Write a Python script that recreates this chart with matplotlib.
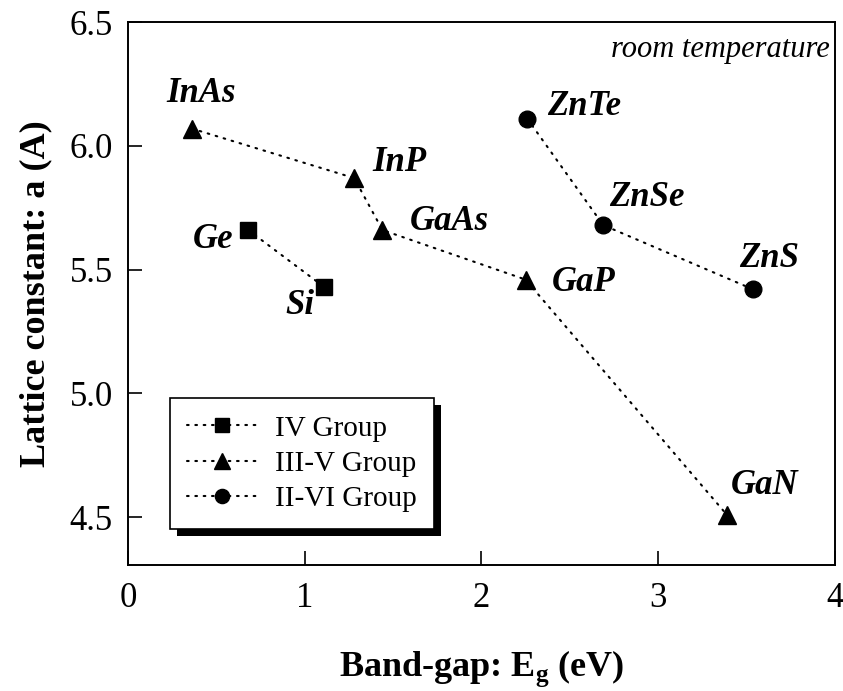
import matplotlib
matplotlib.use("Agg")
import matplotlib.pyplot as plt
from matplotlib.patches import Rectangle

plt.rcParams['font.family'] = ['Liberation Serif', 'DejaVu Serif']
plt.rcParams['mathtext.fontset'] = 'custom'
plt.rcParams['mathtext.rm'] = 'Liberation Serif'

# IV group
iv_names = ['Ge', 'Si']
iv_eg = [0.68, 1.11]
iv_a = [5.66, 5.43]

# III-V group
iii_v_names = ['InAs', 'InP', 'GaAs', 'GaP', 'GaN']
iii_v_eg = [0.36, 1.28, 1.44, 2.25, 3.39]
iii_v_a = [6.07, 5.87, 5.66, 5.46, 4.51]

# II-VI group
ii_vi_names = ['ZnTe', 'ZnSe', 'ZnS']
ii_vi_eg = [2.26, 2.69, 3.54]
ii_vi_a = [6.11, 5.68, 5.42]

x_ticks = [0, 1, 2, 3, 4]
y_ticks = [4.5, 5.0, 5.5, 6.0, 6.5]

# label placement: (dx, dy) in points, horizontal alignment
label_pos = {
    'Ge': (-11, -7, 'right'), 'Si': (-7, -13, 'right'),
    'InAs': (7, 25, 'center'), 'InP': (13, 11, 'left'),
    'GaAs': (20, 6, 'left'), 'GaP': (19, -2, 'left'),
    'GaN': (3, 21, 'left'), 'ZnTe': (14, 9, 'left'),
    'ZnSe': (4, 20, 'left'), 'ZnS': (11, 22, 'center'),
}

fig = plt.figure(figsize=(8.43, 6.91), dpi=100)
ax = fig.add_axes([0.152, 0.182, 0.838, 0.786])

dot = dict(color='black', linestyle=(0, (0.8, 3.2)), linewidth=1.5,
           dash_capstyle='round')
ax.plot(iv_eg, iv_a, marker='s', markersize=12, label='IV Group', **dot)
ax.plot(iii_v_eg, iii_v_a, marker='^', markersize=13, label='III-V Group', **dot)
ax.plot(ii_vi_eg, ii_vi_a, marker='o', markersize=12, label='II-VI Group', **dot)

for names, xs, ys in [(iv_names, iv_eg, iv_a),
                      (iii_v_names, iii_v_eg, iii_v_a),
                      (ii_vi_names, ii_vi_eg, ii_vi_a)]:
    for n, x, y in zip(names, xs, ys):
        dx, dy, ha = label_pos[n]
        ax.annotate(n, (x, y), xytext=(dx, dy), textcoords='offset points',
                    ha=ha, va='center', fontsize=25, fontweight='bold',
                    fontstyle='italic')

ax.text(0.993, 0.95, 'room temperature', transform=ax.transAxes,
        ha='right', va='center', fontsize=22, fontstyle='italic')

ax.set_xlim(0, 4)
ax.set_ylim(4.306, 6.5)
ax.set_xticks(x_ticks)
ax.set_yticks(y_ticks)
ax.set_yticklabels(['%.1f' % v for v in y_ticks])
ax.tick_params(direction='in', length=10, width=1.2, labelsize=25)
ax.tick_params(axis='y', pad=11)
ax.tick_params(axis='x', pad=12)
for s in ax.spines.values():
    s.set_linewidth(1.4)

ax.set_xlabel(r'Band-gap: E$_\mathregular{g}$ (eV)', fontsize=26,
              fontweight='bold', labelpad=24)
ax.set_ylabel('Lattice constant: a (A)', fontsize=26, fontweight='bold',
              labelpad=12)

leg = ax.legend(loc='lower left', bbox_to_anchor=(0.059, 0.066),
                fontsize=21, handlelength=2.4, numpoints=1, fancybox=False,
                framealpha=1, edgecolor='black', borderpad=0.6,
                labelspacing=0.3, handletextpad=0.6, borderaxespad=0,
                markerscale=0.85)
leg.get_frame().set_linewidth(1.2)
leg.set_zorder(5)

fig.canvas.draw()
bb = leg.get_window_extent()
shadow = Rectangle((bb.x0 + 7, bb.y0 - 7), bb.width, bb.height,
                   transform=None, facecolor='black', edgecolor='none',
                   zorder=4)
ax.add_artist(shadow)

fig.savefig('out.png', dpi=100)
